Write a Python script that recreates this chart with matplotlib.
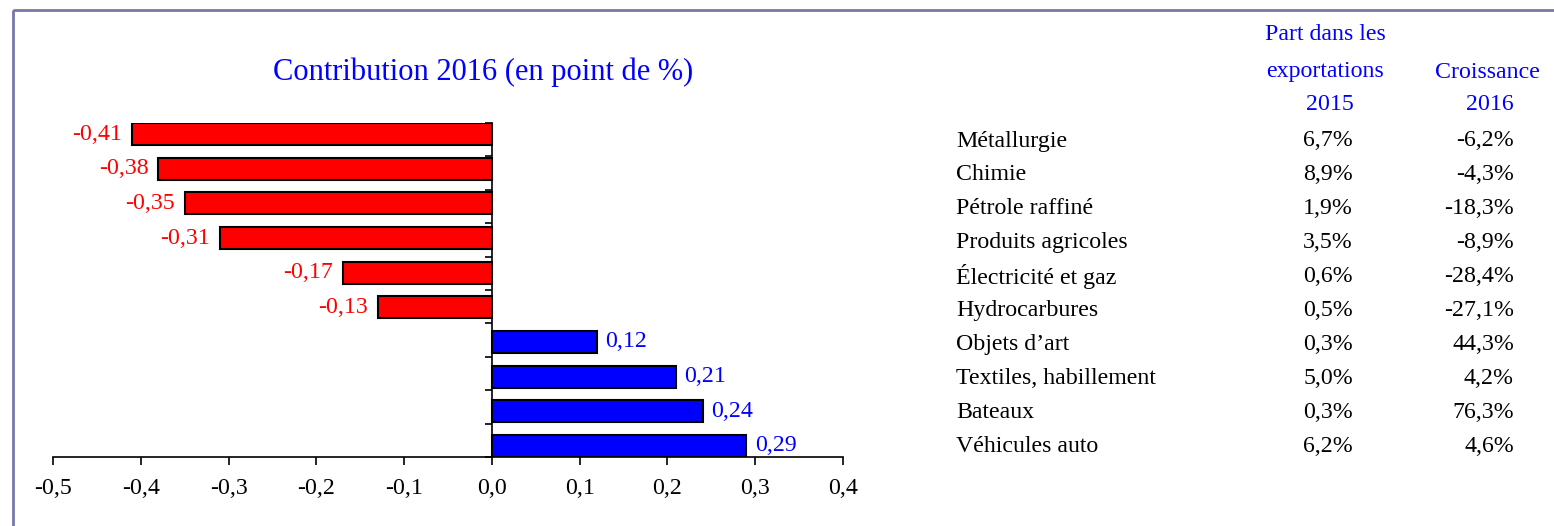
import matplotlib
matplotlib.use("Agg")
import matplotlib.pyplot as plt
from matplotlib.patches import Rectangle
import numpy as np

plt.rcParams['font.family'] = ['Liberation Serif', 'DejaVu Serif']

# data (top to bottom)
secteurs = ['Métallurgie', 'Chimie', 'Pétrole raffiné', 'Produits agricoles',
            'Électricité et gaz', 'Hydrocarbures', "Objets d'art",
            'Textiles, habillement', 'Bateaux', 'Véhicules auto']
contribution = [-0.41, -0.38, -0.35, -0.31, -0.17, -0.13, 0.12, 0.21, 0.24, 0.29]
part_export_2015 = ['6,7%', '8,9%', '1,9%', '3,5%', '0,6%', '0,5%', '0,3%', '5,0%', '0,3%', '6,2%']
croissance_2016 = ['-6,2%', '-4,3%', '-18,3%', '-8,9%', '-28,4%', '-27,1%', '44,3%', '4,2%', '76,3%', '4,6%']
xticks = [-0.5, -0.4, -0.3, -0.2, -0.1, 0.0, 0.1, 0.2, 0.3, 0.4]

RED = '#FF0000'
BLUE = '#0000FF'
W, H = 1554, 526
FS = 17.2

fig = plt.figure(figsize=(W / 100, H / 100), dpi=100)

# frame around the whole chart (only top / left visible)
frame_ax = fig.add_axes([0, 0, 1, 1])
frame_ax.set_xlim(0, W)
frame_ax.set_ylim(H, 0)
frame_ax.axis('off')
frame_ax.add_patch(Rectangle((13, 10), W + 20, H + 20, fill=False,
                             edgecolor='#7777A8', linewidth=2))

# bar chart
ax = fig.add_axes([53 / W, 1 - 457 / H, (843 - 53) / W, (457 - 123) / H])
ypos = np.arange(len(contribution))
colors = [RED if v < 0 else BLUE for v in contribution]
ax.barh(ypos, contribution, height=0.64, color=colors, edgecolor='black', linewidth=1.5)
ax.set_xlim(-0.5, 0.4)
ax.set_ylim(9.32, -0.32)

for y, v in zip(ypos, contribution):
    txt = f'{v:.2f}'.replace('.', ',')
    if v < 0:
        ax.annotate(txt, (v, y), xytext=(-7, 0), textcoords='offset points',
                    ha='right', va='center', color=RED, fontsize=FS)
    else:
        ax.annotate(txt, (v, y), xytext=(6, 0), textcoords='offset points',
                    ha='left', va='center', color=BLUE, fontsize=FS)

for s in ['top', 'right']:
    ax.spines[s].set_visible(False)
ax.spines['left'].set_position(('data', 0))
ax.spines['left'].set_linewidth(1.2)
ax.spines['bottom'].set_linewidth(1.2)
ax.set_xticks(xticks)
ax.set_xticklabels([f'{t:.1f}'.replace('.', ',') for t in xticks], fontsize=FS)
ax.tick_params(axis='x', direction='out', length=6, width=1.2, pad=9)
ax.set_yticks(np.linspace(-0.32, 9.32, 11))
ax.set_yticklabels([])
ax.tick_params(axis='y', direction='out', length=5, width=1.2)

fig.text(483 / W, 1 - 72 / H, 'Contribution 2016 (en point de %)', ha='center',
         va='center', color=BLUE, fontsize=22)

# table on the right
t = frame_ax
t.text(1325, 35, 'Part dans les', ha='center', va='center', color=BLUE, fontsize=FS)
t.text(1325, 72, 'exportations', ha='center', va='center', color=BLUE, fontsize=FS)
t.text(1330, 105, '2015', ha='center', va='center', color=BLUE, fontsize=FS)
t.text(1487, 72, 'Croissance', ha='center', va='center', color=BLUE, fontsize=FS)
t.text(1490, 105, '2016', ha='center', va='center', color=BLUE, fontsize=FS)

row_y = 141 + 33.9 * np.arange(len(secteurs))
for y, nom, p, c in zip(row_y, secteurs, part_export_2015, croissance_2016):
    t.text(956, y, nom.replace("'", '\u2019'), ha='left', va='center', fontsize=FS)
    t.text(1353, y, p, ha='right', va='center', fontsize=FS)
    t.text(1514, y, c, ha='right', va='center', fontsize=FS)

fig.savefig('out.png', dpi=100)
